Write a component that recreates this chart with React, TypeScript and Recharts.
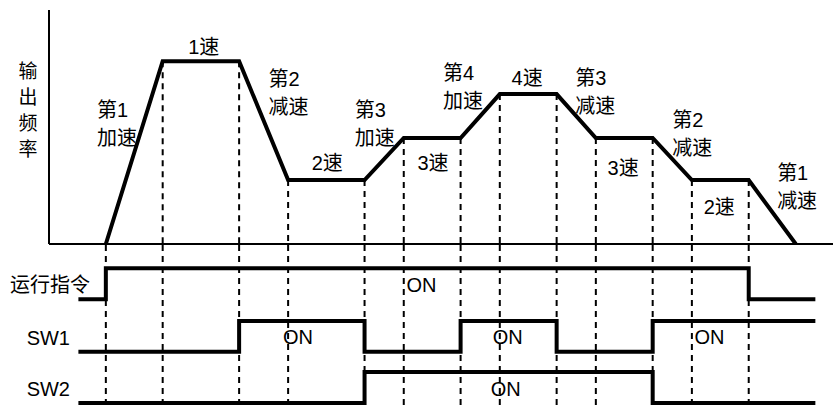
import React from 'react';
import { LineChart, Line, XAxis, YAxis, ReferenceLine, ReferenceDot } from 'recharts';

const FONT = '"Liberation Sans", Arial, "Noto Sans CJK SC", sans-serif';

// corners of the output-frequency curve (time in arbitrary units, frequency in Hz)
const TIMES = [2.9, 5.8, 9.7, 12.2, 16.1, 18.1, 21, 23, 25.9, 27.9, 30.8, 32.8, 35.7, 38.1];
const FREQS = [0, 50, 50, 17.5, 17.5, 29, 29, 41, 41, 29, 29, 17.5, 17.5, 0];

// switch signals: time where each one starts / ends and where it toggles
const T_START = 1.5;
const T_END = 39.1;
const RUN_EDGES = [2.9, 35.7];
const SW1_EDGES = [9.7, 16.1, 21, 25.9, 30.8];
const SW2_EDGES = [16.1, 30.8];
const LANE_NAMES = ['运行指令', 'SW1', 'SW2'];

const Y_TITLE = ['输', '出', '频', '率'];

// text notes on the speed curve, anchored at (time, freq) of their first line
const NOTES = [
  { t: 2.45, f: 36.7, lines: ['第1', '加速'] },
  { t: 7.1, f: 53.9, lines: ['1速'] },
  { t: 11.2, f: 45.1, lines: ['第2', '减速'] },
  { t: 13.4, f: 22.2, lines: ['2速'] },
  { t: 15.6, f: 36.7, lines: ['第3', '加速'] },
  { t: 18.8, f: 22.2, lines: ['3速'] },
  { t: 20.1, f: 46.8, lines: ['第4', '加速'] },
  { t: 23.6, f: 45.4, lines: ['4速'] },
  { t: 26.85, f: 45.4, lines: ['第3', '减速'] },
  { t: 28.5, f: 20.8, lines: ['3速'] },
  { t: 31.8, f: 33.9, lines: ['第2', '减速'] },
  { t: 33.4, f: 10.1, lines: ['2速'] },
  { t: 37.15, f: 19.4, lines: ['第1', '减速'] },
];

// lane layout for the bottom part
const LANE_BASE = [3.35, 1.65, 0];
const LANE_TEXT_RIGHT = [90, 70, 70];
const ON_MARKS = [
  { t: 19.0, lane: 0 },
  { t: 12.7, lane: 1 },
  { t: 23.4, lane: 1 },
  { t: 33.7, lane: 1 },
  { t: 23.3, lane: 2 },
];

const curve = TIMES.map((t, i) => ({ t, f: FREQS[i] }));
const guides = curve.slice(0, -1);

function stepData(edges: number[], base: number) {
  let s = 0;
  const pts = [{ t: T_START, v: base }];
  edges.forEach((e) => {
    s = 1 - s;
    pts.push({ t: e, v: base + s });
  });
  pts.push({ t: T_END, v: base + s });
  return pts;
}

const signals = [RUN_EDGES, SW1_EDGES, SW2_EDGES].map((e, i) => stepData(e, LANE_BASE[i]));
const laneTicks = LANE_BASE.map((b) => b + 0.45);

const NoteLabel = ({ viewBox, lines }: any) => (
  <text x={viewBox.x} y={viewBox.y} fontSize={20} fontFamily={FONT} fill="#000" dominantBaseline="central">
    {lines.map((l: string, i: number) => (
      <tspan key={i} x={viewBox.x} dy={i === 0 ? 0 : 28}>{l}</tspan>
    ))}
  </text>
);

const YTitle = ({ viewBox }: any) => (
  <text fontSize={19} fontFamily={FONT} fill="#000" textAnchor="middle" dominantBaseline="central">
    {Y_TITLE.map((c, i) => (
      <tspan key={i} x={viewBox.x + 28} y={viewBox.y + 61 + i * 26}>{c}</tspan>
    ))}
  </text>
);

const LaneTick = ({ y, payload }: any) => {
  const i = laneTicks.findIndex((v) => Math.abs(v - payload.value) < 0.01);
  return (
    <text x={LANE_TEXT_RIGHT[i]} y={y} textAnchor="end" dominantBaseline="central" fontSize={20} fontFamily={FONT} fill="#000">
      {LANE_NAMES[i]}
    </text>
  );
};

export default function App() {
  return (
    <div style={{ position: 'absolute', left: 0, top: 0, width: 833, height: 405, background: '#fff' }}>
      <LineChart width={833} height={245} data={curve} margin={{ top: 10, right: 0, bottom: 0, left: 0 }}>
        <XAxis type="number" dataKey="t" domain={[0, 40]} tick={false} tickLine={false} height={1}
          axisLine={{ stroke: '#000', strokeWidth: 2 }} allowDataOverflow />
        <YAxis type="number" domain={[0, 64]} tick={false} tickLine={false} width={49}
          axisLine={{ stroke: '#000', strokeWidth: 2 }} label={<YTitle />} />
        {guides.map((g, i) => (
          <ReferenceLine key={i} segment={[{ x: g.t, y: g.f }, { x: g.t, y: 0 }]}
            stroke="#000" strokeWidth={2} strokeDasharray="6 5" />
        ))}
        {NOTES.map((n, i) => (
          <ReferenceDot key={i} x={n.t} y={n.f} r={0} fill="none" stroke="none"
            label={(p: any) => <NoteLabel {...p} lines={n.lines} />} />
        ))}
        <Line type="linear" dataKey="f" stroke="#000" strokeWidth={4} dot={false} isAnimationActive={false} />
      </LineChart>
      <LineChart width={833} height={160} margin={{ top: 0, right: 0, bottom: 0, left: 0 }}>
        <XAxis type="number" dataKey="t" domain={[0, 40]} hide allowDataOverflow />
        <YAxis type="number" domain={[-0.065, 5.1]} ticks={laneTicks} width={49} axisLine={false}
          tickLine={false} tick={<LaneTick />} interval={0} allowDataOverflow />
        {guides.map((g, i) => (
          <ReferenceLine key={i} x={g.t} stroke="#000" strokeWidth={2} strokeDasharray="6 5" />
        ))}
        {ON_MARKS.map((m, i) => (
          <ReferenceDot key={i} x={m.t} y={LANE_BASE[m.lane] + 0.47} r={0} fill="none" stroke="none"
            label={{ value: 'ON', position: 'center', fontSize: 20, fontFamily: FONT, fill: '#000' }} />
        ))}
        {signals.map((s, i) => (
          <Line key={i} data={s} type="stepAfter" dataKey="v" stroke="#000" strokeWidth={4}
            dot={false} isAnimationActive={false} />
        ))}
      </LineChart>
    </div>
  );
}
